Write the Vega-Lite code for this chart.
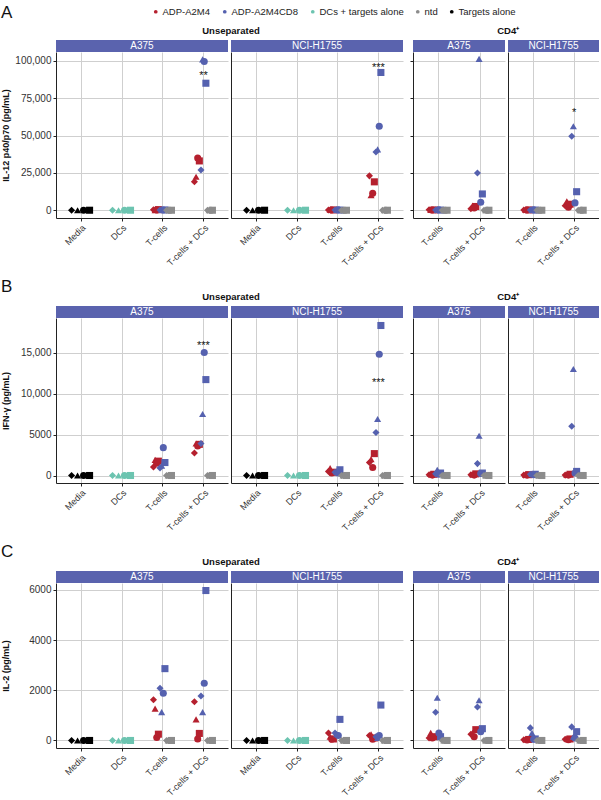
{
"$schema":"https://vega.github.io/schema/vega-lite/v6.json",
"background":"white",
"padding":{"left":1,"top":3,"right":0,"bottom":0},
"spacing":9,
"config":{
 "font":"Liberation Sans",
 "view":{"stroke":null},
 "axis":{"domainColor":"#222","domainWidth":1,"tickColor":"#222","tickSize":3,"labelColor":"#333","labelFontSize":10,"labelPadding":2,"gridColor":"#cfcfcf","gridWidth":1,"titleFontSize":9,"titleFontWeight":"bold","titleColor":"#111"},
 "axisX":{"labelFontSize":9},
 "title":{"fontSize":9.5,"fontWeight":"bold","color":"#111"}
},
"datasets":{
"pts":[
{"a":"A","g":"U","c":"A375","x":"Media","s":"Targets alone","D1":0,"D2":0,"D3":0,"D4":0},
{"a":"A","g":"U","c":"A375","x":"DCs","s":"DCs + targets alone","D1":0,"D2":0,"D3":0,"D4":0},
{"a":"A","g":"U","c":"A375","x":"T-cells","s":"ADP-A2M4","D1":300,"D2":100,"D3":200,"D4":400},
{"a":"A","g":"U","c":"A375","x":"T-cells","s":"ADP-A2M4CD8","D1":200,"D2":300,"D3":100,"D4":200},
{"a":"A","g":"U","c":"A375","x":"T-cells","s":"ntd","D1":0,"D2":0,"D3":0,"D4":0},
{"a":"A","g":"U","c":"A375","x":"T-cells + DCs","s":"ADP-A2M4","D1":19100,"D2":22400,"D3":35000,"D4":33000},
{"a":"A","g":"U","c":"A375","x":"T-cells + DCs","s":"ADP-A2M4CD8","D1":26900,"D2":101000,"D3":99500,"D4":85000},
{"a":"A","g":"U","c":"A375","x":"T-cells + DCs","s":"ntd","D1":0,"D2":0,"D3":0,"D4":0},
{"a":"A","g":"U","c":"NCI-H1755","x":"Media","s":"Targets alone","D1":0,"D2":0,"D3":0,"D4":0},
{"a":"A","g":"U","c":"NCI-H1755","x":"DCs","s":"DCs + targets alone","D1":0,"D2":0,"D3":0,"D4":0},
{"a":"A","g":"U","c":"NCI-H1755","x":"T-cells","s":"ADP-A2M4","D1":200,"D2":300,"D3":100,"D4":200},
{"a":"A","g":"U","c":"NCI-H1755","x":"T-cells","s":"ADP-A2M4CD8","D1":100,"D2":200,"D3":300,"D4":100},
{"a":"A","g":"U","c":"NCI-H1755","x":"T-cells","s":"ntd","D1":0,"D2":0,"D3":0,"D4":0},
{"a":"A","g":"U","c":"NCI-H1755","x":"T-cells + DCs","s":"ADP-A2M4","D1":23000,"D2":10000,"D3":11300,"D4":19000},
{"a":"A","g":"U","c":"NCI-H1755","x":"T-cells + DCs","s":"ADP-A2M4CD8","D1":39000,"D2":40700,"D3":56200,"D4":92200},
{"a":"A","g":"U","c":"NCI-H1755","x":"T-cells + DCs","s":"ntd","D1":0,"D2":0,"D3":0,"D4":0},
{"a":"A","g":"C","c":"A375","x":"T-cells","s":"ADP-A2M4","D1":300,"D2":200,"D3":100,"D4":200},
{"a":"A","g":"C","c":"A375","x":"T-cells","s":"ADP-A2M4CD8","D1":200,"D2":400,"D3":300,"D4":100},
{"a":"A","g":"C","c":"A375","x":"T-cells","s":"ntd","D1":0,"D2":0,"D3":0,"D4":0},
{"a":"A","g":"C","c":"A375","x":"T-cells + DCs","s":"ADP-A2M4","D1":1000,"D2":3200,"D3":1500,"D4":2500},
{"a":"A","g":"C","c":"A375","x":"T-cells + DCs","s":"ADP-A2M4CD8","D1":24900,"D2":101300,"D3":5300,"D4":10900},
{"a":"A","g":"C","c":"A375","x":"T-cells + DCs","s":"ntd","D1":0,"D2":0,"D3":0,"D4":0},
{"a":"A","g":"C","c":"NCI-H1755","x":"T-cells","s":"ADP-A2M4","D1":200,"D2":300,"D3":100,"D4":200},
{"a":"A","g":"C","c":"NCI-H1755","x":"T-cells","s":"ADP-A2M4CD8","D1":100,"D2":200,"D3":300,"D4":100},
{"a":"A","g":"C","c":"NCI-H1755","x":"T-cells","s":"ntd","D1":0,"D2":0,"D3":0,"D4":0},
{"a":"A","g":"C","c":"NCI-H1755","x":"T-cells + DCs","s":"ADP-A2M4","D1":3000,"D2":6000,"D3":2000,"D4":4000},
{"a":"A","g":"C","c":"NCI-H1755","x":"T-cells + DCs","s":"ADP-A2M4CD8","D1":49500,"D2":56200,"D3":4900,"D4":12400},
{"a":"A","g":"C","c":"NCI-H1755","x":"T-cells + DCs","s":"ntd","D1":0,"D2":0,"D3":0,"D4":0},

{"a":"B","g":"U","c":"A375","x":"Media","s":"Targets alone","D1":0,"D2":0,"D3":0,"D4":0},
{"a":"B","g":"U","c":"A375","x":"DCs","s":"DCs + targets alone","D1":0,"D2":0,"D3":0,"D4":0},
{"a":"B","g":"U","c":"A375","x":"T-cells","s":"ADP-A2M4","D1":1040,"D2":1900,"D3":1500,"D4":1750},
{"a":"B","g":"U","c":"A375","x":"T-cells","s":"ADP-A2M4CD8","D1":930,"D2":1200,"D3":3400,"D4":1580},
{"a":"B","g":"U","c":"A375","x":"T-cells","s":"ntd","D1":0,"D2":0,"D3":0,"D4":0},
{"a":"B","g":"U","c":"A375","x":"T-cells + DCs","s":"ADP-A2M4","D1":2750,"D2":3900,"D3":3600,"D4":3800},
{"a":"B","g":"U","c":"A375","x":"T-cells + DCs","s":"ADP-A2M4CD8","D1":3900,"D2":7500,"D3":15000,"D4":11700},
{"a":"B","g":"U","c":"A375","x":"T-cells + DCs","s":"ntd","D1":0,"D2":0,"D3":0,"D4":0},
{"a":"B","g":"U","c":"NCI-H1755","x":"Media","s":"Targets alone","D1":0,"D2":0,"D3":0,"D4":0},
{"a":"B","g":"U","c":"NCI-H1755","x":"DCs","s":"DCs + targets alone","D1":0,"D2":0,"D3":0,"D4":0},
{"a":"B","g":"U","c":"NCI-H1755","x":"T-cells","s":"ADP-A2M4","D1":500,"D2":900,"D3":300,"D4":400},
{"a":"B","g":"U","c":"NCI-H1755","x":"T-cells","s":"ADP-A2M4CD8","D1":400,"D2":500,"D3":300,"D4":700},
{"a":"B","g":"U","c":"NCI-H1755","x":"T-cells","s":"ntd","D1":0,"D2":0,"D3":0,"D4":0},
{"a":"B","g":"U","c":"NCI-H1755","x":"T-cells + DCs","s":"ADP-A2M4","D1":1580,"D2":2000,"D3":970,"D4":2670},
{"a":"B","g":"U","c":"NCI-H1755","x":"T-cells + DCs","s":"ADP-A2M4CD8","D1":5250,"D2":6900,"D3":14800,"D4":18300},
{"a":"B","g":"U","c":"NCI-H1755","x":"T-cells + DCs","s":"ntd","D1":0,"D2":0,"D3":0,"D4":0},
{"a":"B","g":"C","c":"A375","x":"T-cells","s":"ADP-A2M4","D1":100,"D2":200,"D3":50,"D4":150},
{"a":"B","g":"C","c":"A375","x":"T-cells","s":"ADP-A2M4CD8","D1":200,"D2":700,"D3":150,"D4":300},
{"a":"B","g":"C","c":"A375","x":"T-cells","s":"ntd","D1":0,"D2":0,"D3":0,"D4":0},
{"a":"B","g":"C","c":"A375","x":"T-cells + DCs","s":"ADP-A2M4","D1":100,"D2":150,"D3":50,"D4":200},
{"a":"B","g":"C","c":"A375","x":"T-cells + DCs","s":"ADP-A2M4CD8","D1":1450,"D2":4850,"D3":250,"D4":300},
{"a":"B","g":"C","c":"A375","x":"T-cells + DCs","s":"ntd","D1":0,"D2":0,"D3":0,"D4":0},
{"a":"B","g":"C","c":"NCI-H1755","x":"T-cells","s":"ADP-A2M4","D1":50,"D2":100,"D3":50,"D4":100},
{"a":"B","g":"C","c":"NCI-H1755","x":"T-cells","s":"ADP-A2M4CD8","D1":150,"D2":200,"D3":100,"D4":150},
{"a":"B","g":"C","c":"NCI-H1755","x":"T-cells","s":"ntd","D1":0,"D2":0,"D3":0,"D4":0},
{"a":"B","g":"C","c":"NCI-H1755","x":"T-cells + DCs","s":"ADP-A2M4","D1":50,"D2":100,"D3":50,"D4":150},
{"a":"B","g":"C","c":"NCI-H1755","x":"T-cells + DCs","s":"ADP-A2M4CD8","D1":6000,"D2":13000,"D3":300,"D4":500},
{"a":"B","g":"C","c":"NCI-H1755","x":"T-cells + DCs","s":"ntd","D1":0,"D2":0,"D3":0,"D4":0},

{"a":"C","g":"U","c":"A375","x":"Media","s":"Targets alone","D1":0,"D2":0,"D3":0,"D4":0},
{"a":"C","g":"U","c":"A375","x":"DCs","s":"DCs + targets alone","D1":0,"D2":0,"D3":0,"D4":0},
{"a":"C","g":"U","c":"A375","x":"T-cells","s":"ADP-A2M4","D1":1620,"D2":1270,"D3":120,"D4":250},
{"a":"C","g":"U","c":"A375","x":"T-cells","s":"ADP-A2M4CD8","D1":2080,"D2":1130,"D3":1880,"D4":2860},
{"a":"C","g":"U","c":"A375","x":"T-cells","s":"ntd","D1":0,"D2":0,"D3":0,"D4":0},
{"a":"C","g":"U","c":"A375","x":"T-cells + DCs","s":"ADP-A2M4","D1":1540,"D2":840,"D3":60,"D4":280},
{"a":"C","g":"U","c":"A375","x":"T-cells + DCs","s":"ADP-A2M4CD8","D1":1770,"D2":1130,"D3":2280,"D4":5970},
{"a":"C","g":"U","c":"A375","x":"T-cells + DCs","s":"ntd","D1":0,"D2":0,"D3":0,"D4":0},
{"a":"C","g":"U","c":"NCI-H1755","x":"Media","s":"Targets alone","D1":0,"D2":0,"D3":0,"D4":0},
{"a":"C","g":"U","c":"NCI-H1755","x":"DCs","s":"DCs + targets alone","D1":0,"D2":0,"D3":0,"D4":0},
{"a":"C","g":"U","c":"NCI-H1755","x":"T-cells","s":"ADP-A2M4","D1":300,"D2":150,"D3":50,"D4":60},
{"a":"C","g":"U","c":"NCI-H1755","x":"T-cells","s":"ADP-A2M4CD8","D1":300,"D2":250,"D3":200,"D4":840},
{"a":"C","g":"U","c":"NCI-H1755","x":"T-cells","s":"ntd","D1":0,"D2":0,"D3":0,"D4":0},
{"a":"C","g":"U","c":"NCI-H1755","x":"T-cells + DCs","s":"ADP-A2M4","D1":200,"D2":250,"D3":50,"D4":100},
{"a":"C","g":"U","c":"NCI-H1755","x":"T-cells + DCs","s":"ADP-A2M4CD8","D1":150,"D2":100,"D3":200,"D4":1410},
{"a":"C","g":"U","c":"NCI-H1755","x":"T-cells + DCs","s":"ntd","D1":0,"D2":0,"D3":0,"D4":0},
{"a":"C","g":"C","c":"A375","x":"T-cells","s":"ADP-A2M4","D1":100,"D2":300,"D3":100,"D4":150},
{"a":"C","g":"C","c":"A375","x":"T-cells","s":"ADP-A2M4CD8","D1":1120,"D2":1700,"D3":300,"D4":150},
{"a":"C","g":"C","c":"A375","x":"T-cells","s":"ntd","D1":0,"D2":0,"D3":0,"D4":0},
{"a":"C","g":"C","c":"A375","x":"T-cells + DCs","s":"ADP-A2M4","D1":250,"D2":300,"D3":150,"D4":430},
{"a":"C","g":"C","c":"A375","x":"T-cells + DCs","s":"ADP-A2M4CD8","D1":1330,"D2":1600,"D3":350,"D4":470},
{"a":"C","g":"C","c":"A375","x":"T-cells + DCs","s":"ntd","D1":0,"D2":0,"D3":0,"D4":0},
{"a":"C","g":"C","c":"NCI-H1755","x":"T-cells","s":"ADP-A2M4","D1":30,"D2":50,"D3":20,"D4":40},
{"a":"C","g":"C","c":"NCI-H1755","x":"T-cells","s":"ADP-A2M4CD8","D1":500,"D2":300,"D3":50,"D4":60},
{"a":"C","g":"C","c":"NCI-H1755","x":"T-cells","s":"ntd","D1":0,"D2":0,"D3":0,"D4":0},
{"a":"C","g":"C","c":"NCI-H1755","x":"T-cells + DCs","s":"ADP-A2M4","D1":50,"D2":80,"D3":30,"D4":60},
{"a":"C","g":"C","c":"NCI-H1755","x":"T-cells + DCs","s":"ADP-A2M4CD8","D1":540,"D2":150,"D3":100,"D4":350},
{"a":"C","g":"C","c":"NCI-H1755","x":"T-cells + DCs","s":"ntd","D1":0,"D2":0,"D3":0,"D4":0}
],
"stars":[
{"a":"A","g":"U","c":"A375","x":"T-cells + DCs","t":"**","value":92000},
{"a":"A","g":"U","c":"NCI-H1755","x":"T-cells + DCs","t":"***","value":97500},
{"a":"A","g":"C","c":"NCI-H1755","x":"T-cells + DCs","t":"*","value":67000},
{"a":"B","g":"U","c":"A375","x":"T-cells + DCs","t":"***","value":16200},
{"a":"B","g":"U","c":"NCI-H1755","x":"T-cells + DCs","t":"***","value":11600}
]
},
"vconcat":[
{"title":{"text":"A","anchor":"start","fontSize":17,"fontWeight":"normal","offset":4},
 "spacing":6,
 "hconcat":[
  {"title":{"text":"Unseparated","anchor":"middle","dx":29,"offset":5},"spacing":3,
   "hconcat":[
    {"spacing":0,"vconcat":[
      {"width":172,"height":12,"view":{"fill":"#5a63ae","stroke":null},"data":{"values":[{"t":"A375"}]},"mark":{"type":"text","color":"white","fontSize":10,"baseline":"middle"},"encoding":{"text":{"field":"t"}}},
      {"width":172,"height":166,"layer":[
        {"data":{"name":"pts"},"transform":[{"filter":"datum.a=='A' && datum.g=='U' && datum.c=='A375'"},{"fold":["D1","D2","D3","D4"],"as":["donor","value"]},{"calculate":"(datum.s=='Targets alone'||datum.s=='DCs + targets alone') ? indexof(['D1','D2','D3','D4'],datum.donor)*11/3 : indexof(['ADP-A2M4','ADP-A2M4CD8','ntd'],datum.s)*4+indexof(['D1','D2','D3','D4'],datum.donor)","as":"slot"}],
         "mark":{"type":"point","filled":true,"size":50,"opacity":1},
         "encoding":{
          "x":{"field":"x","type":"nominal","scale":{"type":"point","domain":["Media","DCs","T-cells","T-cells + DCs"],"padding":0.6},"axis":{"title":null,"labelAngle":-45,"labelAlign":"right","labelBaseline":"top","grid":true}},
          "xOffset":{"field":"slot","type":"quantitative","scale":{"domain":[0,11],"range":[-9,9]}},
          "y":{"field":"value","type":"quantitative","scale":{"domain":[-5200,105900],"nice":false,"zero":false},"axis":{"values":[0,25000,50000,75000,100000],"labelExpr":"format(datum.value, ',')","title":"IL-12 p40/p70 (pg/mL)","grid":true,"minExtent":43,"titlePadding":3}},
          "color":{"field":"s","type":"nominal","scale":{"domain":["ADP-A2M4","ADP-A2M4CD8","DCs + targets alone","ntd","Targets alone"],"range":["#b5202e","#5561af","#6cc4b0","#8c8c8c","#000000"]},"legend":{"orient":"none","legendX":95,"legendY":-33,"direction":"horizontal","columns":5,"gridAlign":"none","title":null,"symbolType":"circle","symbolSize":14,"labelFontSize":9.5,"labelColor":"#222","columnPadding":9,"labelOffset":2}},
          "shape":{"field":"donor","type":"nominal","scale":{"domain":["D1","D2","D3","D4"],"range":["diamond","triangle-up","circle","square"]},"legend":null}}},
        {"data":{"name":"stars"},"transform":[{"filter":"datum.a=='A' && datum.g=='U' && datum.c=='A375'"}],"mark":{"type":"text","fontSize":11,"baseline":"middle","dy":3,"color":"#111"},"encoding":{"x":{"field":"x","type":"nominal"},"y":{"field":"value","type":"quantitative"},"text":{"field":"t"}}}
      ]}
    ]},
    {"spacing":0,"vconcat":[
      {"width":172,"height":12,"view":{"fill":"#5a63ae","stroke":null},"data":{"values":[{"t":"NCI-H1755"}]},"mark":{"type":"text","color":"white","fontSize":10,"baseline":"middle"},"encoding":{"text":{"field":"t"}}},
      {"width":172,"height":166,"layer":[
        {"data":{"name":"pts"},"transform":[{"filter":"datum.a=='A' && datum.g=='U' && datum.c=='NCI-H1755'"},{"fold":["D1","D2","D3","D4"],"as":["donor","value"]},{"calculate":"(datum.s=='Targets alone'||datum.s=='DCs + targets alone') ? indexof(['D1','D2','D3','D4'],datum.donor)*11/3 : indexof(['ADP-A2M4','ADP-A2M4CD8','ntd'],datum.s)*4+indexof(['D1','D2','D3','D4'],datum.donor)","as":"slot"}],
         "mark":{"type":"point","filled":true,"size":50,"opacity":1},
         "encoding":{
          "x":{"field":"x","type":"nominal","scale":{"type":"point","domain":["Media","DCs","T-cells","T-cells + DCs"],"padding":0.6},"axis":{"title":null,"labelAngle":-45,"labelAlign":"right","labelBaseline":"top","grid":true}},
          "xOffset":{"field":"slot","type":"quantitative","scale":{"domain":[0,11],"range":[-9,9]}},
          "y":{"field":"value","type":"quantitative","scale":{"domain":[-5200,105900],"nice":false,"zero":false},"axis":{"values":[0,25000,50000,75000,100000],"title":null,"labels":false,"ticks":false,"grid":true}},
          "color":{"field":"s","type":"nominal","scale":{"domain":["ADP-A2M4","ADP-A2M4CD8","DCs + targets alone","ntd","Targets alone"],"range":["#b5202e","#5561af","#6cc4b0","#8c8c8c","#000000"]}},
          "shape":{"field":"donor","type":"nominal","scale":{"domain":["D1","D2","D3","D4"],"range":["diamond","triangle-up","circle","square"]},"legend":null}}},
        {"data":{"name":"stars"},"transform":[{"filter":"datum.a=='A' && datum.g=='U' && datum.c=='NCI-H1755'"}],"mark":{"type":"text","fontSize":11,"baseline":"middle","dy":3,"color":"#111"},"encoding":{"x":{"field":"x","type":"nominal"},"y":{"field":"value","type":"quantitative"},"text":{"field":"t"}}}
      ]}
    ]}
   ]},
  {"title":{"text":"CD4⁺","anchor":"middle","dx":4,"offset":5},"spacing":3,
   "hconcat":[
    {"spacing":0,"vconcat":[
      {"width":92,"height":12,"view":{"fill":"#5a63ae","stroke":null},"data":{"values":[{"t":"A375"}]},"mark":{"type":"text","color":"white","fontSize":10,"baseline":"middle"},"encoding":{"text":{"field":"t"}}},
      {"width":92,"height":166,"layer":[
        {"data":{"name":"pts"},"transform":[{"filter":"datum.a=='A' && datum.g=='C' && datum.c=='A375'"},{"fold":["D1","D2","D3","D4"],"as":["donor","value"]},{"calculate":"(datum.s=='Targets alone'||datum.s=='DCs + targets alone') ? indexof(['D1','D2','D3','D4'],datum.donor)*11/3 : indexof(['ADP-A2M4','ADP-A2M4CD8','ntd'],datum.s)*4+indexof(['D1','D2','D3','D4'],datum.donor)","as":"slot"}],
         "mark":{"type":"point","filled":true,"size":50,"opacity":1},
         "encoding":{
          "x":{"field":"x","type":"nominal","scale":{"type":"point","domain":["T-cells","T-cells + DCs"],"padding":0.6},"axis":{"title":null,"labelAngle":-45,"labelAlign":"right","labelBaseline":"top","grid":true}},
          "xOffset":{"field":"slot","type":"quantitative","scale":{"domain":[0,11],"range":[-9,9]}},
          "y":{"field":"value","type":"quantitative","scale":{"domain":[-5200,105900],"nice":false,"zero":false},"axis":{"values":[0,25000,50000,75000,100000],"title":null,"labels":false,"ticks":true,"grid":true}},
          "color":{"field":"s","type":"nominal","scale":{"domain":["ADP-A2M4","ADP-A2M4CD8","DCs + targets alone","ntd","Targets alone"],"range":["#b5202e","#5561af","#6cc4b0","#8c8c8c","#000000"]}},
          "shape":{"field":"donor","type":"nominal","scale":{"domain":["D1","D2","D3","D4"],"range":["diamond","triangle-up","circle","square"]},"legend":null}}}
      ]}
    ]},
    {"spacing":0,"vconcat":[
      {"width":91,"height":12,"view":{"fill":"#5a63ae","stroke":null},"data":{"values":[{"t":"NCI-H1755"}]},"mark":{"type":"text","color":"white","fontSize":10,"baseline":"middle"},"encoding":{"text":{"field":"t"}}},
      {"width":91,"height":166,"layer":[
        {"data":{"name":"pts"},"transform":[{"filter":"datum.a=='A' && datum.g=='C' && datum.c=='NCI-H1755'"},{"fold":["D1","D2","D3","D4"],"as":["donor","value"]},{"calculate":"(datum.s=='Targets alone'||datum.s=='DCs + targets alone') ? indexof(['D1','D2','D3','D4'],datum.donor)*11/3 : indexof(['ADP-A2M4','ADP-A2M4CD8','ntd'],datum.s)*4+indexof(['D1','D2','D3','D4'],datum.donor)","as":"slot"}],
         "mark":{"type":"point","filled":true,"size":50,"opacity":1},
         "encoding":{
          "x":{"field":"x","type":"nominal","scale":{"type":"point","domain":["T-cells","T-cells + DCs"],"padding":0.6},"axis":{"title":null,"labelAngle":-45,"labelAlign":"right","labelBaseline":"top","grid":true}},
          "xOffset":{"field":"slot","type":"quantitative","scale":{"domain":[0,11],"range":[-9,9]}},
          "y":{"field":"value","type":"quantitative","scale":{"domain":[-5200,105900],"nice":false,"zero":false},"axis":{"values":[0,25000,50000,75000,100000],"title":null,"labels":false,"ticks":false,"grid":true}},
          "color":{"field":"s","type":"nominal","scale":{"domain":["ADP-A2M4","ADP-A2M4CD8","DCs + targets alone","ntd","Targets alone"],"range":["#b5202e","#5561af","#6cc4b0","#8c8c8c","#000000"]}},
          "shape":{"field":"donor","type":"nominal","scale":{"domain":["D1","D2","D3","D4"],"range":["diamond","triangle-up","circle","square"]},"legend":null}}},
        {"data":{"name":"stars"},"transform":[{"filter":"datum.a=='A' && datum.g=='C' && datum.c=='NCI-H1755'"}],"mark":{"type":"text","fontSize":11,"baseline":"middle","dy":3,"color":"#111"},"encoding":{"x":{"field":"x","type":"nominal"},"y":{"field":"value","type":"quantitative"},"text":{"field":"t"}}}
      ]}
    ]}
   ]}
 ]},

{"title":{"text":"B","anchor":"start","fontSize":17,"fontWeight":"normal","offset":-4},
 "spacing":6,
 "hconcat":[
  {"title":{"text":"Unseparated","anchor":"middle","dx":29,"offset":5},"spacing":3,
   "hconcat":[
    {"spacing":0,"vconcat":[
      {"width":172,"height":12,"view":{"fill":"#5a63ae","stroke":null},"data":{"values":[{"t":"A375"}]},"mark":{"type":"text","color":"white","fontSize":10,"baseline":"middle"},"encoding":{"text":{"field":"t"}}},
      {"width":172,"height":165,"layer":[
        {"data":{"name":"pts"},"transform":[{"filter":"datum.a=='B' && datum.g=='U' && datum.c=='A375'"},{"fold":["D1","D2","D3","D4"],"as":["donor","value"]},{"calculate":"(datum.s=='Targets alone'||datum.s=='DCs + targets alone') ? indexof(['D1','D2','D3','D4'],datum.donor)*11/3 : indexof(['ADP-A2M4','ADP-A2M4CD8','ntd'],datum.s)*4+indexof(['D1','D2','D3','D4'],datum.donor)","as":"slot"}],
         "mark":{"type":"point","filled":true,"size":50,"opacity":1},
         "encoding":{
          "x":{"field":"x","type":"nominal","scale":{"type":"point","domain":["Media","DCs","T-cells","T-cells + DCs"],"padding":0.6},"axis":{"title":null,"labelAngle":-45,"labelAlign":"right","labelBaseline":"top","grid":true}},
          "xOffset":{"field":"slot","type":"quantitative","scale":{"domain":[0,11],"range":[-9,9]}},
          "y":{"field":"value","type":"quantitative","scale":{"domain":[-915,19215],"nice":false,"zero":false},"axis":{"values":[0,5000,10000,15000],"labelExpr":"datum.value >= 10000 ? format(datum.value, ',') : format(datum.value, 'd')","title":"IFN-γ (pg/mL)","grid":true,"minExtent":43,"titlePadding":3}},
          "color":{"field":"s","type":"nominal","scale":{"domain":["ADP-A2M4","ADP-A2M4CD8","DCs + targets alone","ntd","Targets alone"],"range":["#b5202e","#5561af","#6cc4b0","#8c8c8c","#000000"]}},
          "shape":{"field":"donor","type":"nominal","scale":{"domain":["D1","D2","D3","D4"],"range":["diamond","triangle-up","circle","square"]},"legend":null}}},
        {"data":{"name":"stars"},"transform":[{"filter":"datum.a=='B' && datum.g=='U' && datum.c=='A375'"}],"mark":{"type":"text","fontSize":11,"baseline":"middle","dy":3,"color":"#111"},"encoding":{"x":{"field":"x","type":"nominal"},"y":{"field":"value","type":"quantitative"},"text":{"field":"t"}}}
      ]}
    ]},
    {"spacing":0,"vconcat":[
      {"width":172,"height":12,"view":{"fill":"#5a63ae","stroke":null},"data":{"values":[{"t":"NCI-H1755"}]},"mark":{"type":"text","color":"white","fontSize":10,"baseline":"middle"},"encoding":{"text":{"field":"t"}}},
      {"width":172,"height":165,"layer":[
        {"data":{"name":"pts"},"transform":[{"filter":"datum.a=='B' && datum.g=='U' && datum.c=='NCI-H1755'"},{"fold":["D1","D2","D3","D4"],"as":["donor","value"]},{"calculate":"(datum.s=='Targets alone'||datum.s=='DCs + targets alone') ? indexof(['D1','D2','D3','D4'],datum.donor)*11/3 : indexof(['ADP-A2M4','ADP-A2M4CD8','ntd'],datum.s)*4+indexof(['D1','D2','D3','D4'],datum.donor)","as":"slot"}],
         "mark":{"type":"point","filled":true,"size":50,"opacity":1},
         "encoding":{
          "x":{"field":"x","type":"nominal","scale":{"type":"point","domain":["Media","DCs","T-cells","T-cells + DCs"],"padding":0.6},"axis":{"title":null,"labelAngle":-45,"labelAlign":"right","labelBaseline":"top","grid":true}},
          "xOffset":{"field":"slot","type":"quantitative","scale":{"domain":[0,11],"range":[-9,9]}},
          "y":{"field":"value","type":"quantitative","scale":{"domain":[-915,19215],"nice":false,"zero":false},"axis":{"values":[0,5000,10000,15000],"title":null,"labels":false,"ticks":false,"grid":true}},
          "color":{"field":"s","type":"nominal","scale":{"domain":["ADP-A2M4","ADP-A2M4CD8","DCs + targets alone","ntd","Targets alone"],"range":["#b5202e","#5561af","#6cc4b0","#8c8c8c","#000000"]}},
          "shape":{"field":"donor","type":"nominal","scale":{"domain":["D1","D2","D3","D4"],"range":["diamond","triangle-up","circle","square"]},"legend":null}}},
        {"data":{"name":"stars"},"transform":[{"filter":"datum.a=='B' && datum.g=='U' && datum.c=='NCI-H1755'"}],"mark":{"type":"text","fontSize":11,"baseline":"middle","dy":3,"color":"#111"},"encoding":{"x":{"field":"x","type":"nominal"},"y":{"field":"value","type":"quantitative"},"text":{"field":"t"}}}
      ]}
    ]}
   ]},
  {"title":{"text":"CD4⁺","anchor":"middle","dx":4,"offset":5},"spacing":3,
   "hconcat":[
    {"spacing":0,"vconcat":[
      {"width":92,"height":12,"view":{"fill":"#5a63ae","stroke":null},"data":{"values":[{"t":"A375"}]},"mark":{"type":"text","color":"white","fontSize":10,"baseline":"middle"},"encoding":{"text":{"field":"t"}}},
      {"width":92,"height":165,"layer":[
        {"data":{"name":"pts"},"transform":[{"filter":"datum.a=='B' && datum.g=='C' && datum.c=='A375'"},{"fold":["D1","D2","D3","D4"],"as":["donor","value"]},{"calculate":"(datum.s=='Targets alone'||datum.s=='DCs + targets alone') ? indexof(['D1','D2','D3','D4'],datum.donor)*11/3 : indexof(['ADP-A2M4','ADP-A2M4CD8','ntd'],datum.s)*4+indexof(['D1','D2','D3','D4'],datum.donor)","as":"slot"}],
         "mark":{"type":"point","filled":true,"size":50,"opacity":1},
         "encoding":{
          "x":{"field":"x","type":"nominal","scale":{"type":"point","domain":["T-cells","T-cells + DCs"],"padding":0.6},"axis":{"title":null,"labelAngle":-45,"labelAlign":"right","labelBaseline":"top","grid":true}},
          "xOffset":{"field":"slot","type":"quantitative","scale":{"domain":[0,11],"range":[-9,9]}},
          "y":{"field":"value","type":"quantitative","scale":{"domain":[-915,19215],"nice":false,"zero":false},"axis":{"values":[0,5000,10000,15000],"title":null,"labels":false,"ticks":true,"grid":true}},
          "color":{"field":"s","type":"nominal","scale":{"domain":["ADP-A2M4","ADP-A2M4CD8","DCs + targets alone","ntd","Targets alone"],"range":["#b5202e","#5561af","#6cc4b0","#8c8c8c","#000000"]}},
          "shape":{"field":"donor","type":"nominal","scale":{"domain":["D1","D2","D3","D4"],"range":["diamond","triangle-up","circle","square"]},"legend":null}}}
      ]}
    ]},
    {"spacing":0,"vconcat":[
      {"width":91,"height":12,"view":{"fill":"#5a63ae","stroke":null},"data":{"values":[{"t":"NCI-H1755"}]},"mark":{"type":"text","color":"white","fontSize":10,"baseline":"middle"},"encoding":{"text":{"field":"t"}}},
      {"width":91,"height":165,"layer":[
        {"data":{"name":"pts"},"transform":[{"filter":"datum.a=='B' && datum.g=='C' && datum.c=='NCI-H1755'"},{"fold":["D1","D2","D3","D4"],"as":["donor","value"]},{"calculate":"(datum.s=='Targets alone'||datum.s=='DCs + targets alone') ? indexof(['D1','D2','D3','D4'],datum.donor)*11/3 : indexof(['ADP-A2M4','ADP-A2M4CD8','ntd'],datum.s)*4+indexof(['D1','D2','D3','D4'],datum.donor)","as":"slot"}],
         "mark":{"type":"point","filled":true,"size":50,"opacity":1},
         "encoding":{
          "x":{"field":"x","type":"nominal","scale":{"type":"point","domain":["T-cells","T-cells + DCs"],"padding":0.6},"axis":{"title":null,"labelAngle":-45,"labelAlign":"right","labelBaseline":"top","grid":true}},
          "xOffset":{"field":"slot","type":"quantitative","scale":{"domain":[0,11],"range":[-9,9]}},
          "y":{"field":"value","type":"quantitative","scale":{"domain":[-915,19215],"nice":false,"zero":false},"axis":{"values":[0,5000,10000,15000],"title":null,"labels":false,"ticks":false,"grid":true}},
          "color":{"field":"s","type":"nominal","scale":{"domain":["ADP-A2M4","ADP-A2M4CD8","DCs + targets alone","ntd","Targets alone"],"range":["#b5202e","#5561af","#6cc4b0","#8c8c8c","#000000"]}},
          "shape":{"field":"donor","type":"nominal","scale":{"domain":["D1","D2","D3","D4"],"range":["diamond","triangle-up","circle","square"]},"legend":null}}}
      ]}
    ]}
   ]}
 ]},

{"title":{"text":"C","anchor":"start","fontSize":17,"fontWeight":"normal","offset":-4},
 "spacing":6,
 "hconcat":[
  {"title":{"text":"Unseparated","anchor":"middle","dx":29,"offset":5},"spacing":3,
   "hconcat":[
    {"spacing":0,"vconcat":[
      {"width":172,"height":12,"view":{"fill":"#5a63ae","stroke":null},"data":{"values":[{"t":"A375"}]},"mark":{"type":"text","color":"white","fontSize":10,"baseline":"middle"},"encoding":{"text":{"field":"t"}}},
      {"width":172,"height":165,"layer":[
        {"data":{"name":"pts"},"transform":[{"filter":"datum.a=='C' && datum.g=='U' && datum.c=='A375'"},{"fold":["D1","D2","D3","D4"],"as":["donor","value"]},{"calculate":"(datum.s=='Targets alone'||datum.s=='DCs + targets alone') ? indexof(['D1','D2','D3','D4'],datum.donor)*11/3 : indexof(['ADP-A2M4','ADP-A2M4CD8','ntd'],datum.s)*4+indexof(['D1','D2','D3','D4'],datum.donor)","as":"slot"}],
         "mark":{"type":"point","filled":true,"size":50,"opacity":1},
         "encoding":{
          "x":{"field":"x","type":"nominal","scale":{"type":"point","domain":["Media","DCs","T-cells","T-cells + DCs"],"padding":0.6},"axis":{"title":null,"labelAngle":-45,"labelAlign":"right","labelBaseline":"top","grid":true}},
          "xOffset":{"field":"slot","type":"quantitative","scale":{"domain":[0,11],"range":[-9,9]}},
          "y":{"field":"value","type":"quantitative","scale":{"domain":[-300,6270],"nice":false,"zero":false},"axis":{"values":[0,2000,4000,6000],"format":"d","title":"IL-2 (pg/mL)","grid":true,"minExtent":43,"titlePadding":3}},
          "color":{"field":"s","type":"nominal","scale":{"domain":["ADP-A2M4","ADP-A2M4CD8","DCs + targets alone","ntd","Targets alone"],"range":["#b5202e","#5561af","#6cc4b0","#8c8c8c","#000000"]}},
          "shape":{"field":"donor","type":"nominal","scale":{"domain":["D1","D2","D3","D4"],"range":["diamond","triangle-up","circle","square"]},"legend":null}}}
      ]}
    ]},
    {"spacing":0,"vconcat":[
      {"width":172,"height":12,"view":{"fill":"#5a63ae","stroke":null},"data":{"values":[{"t":"NCI-H1755"}]},"mark":{"type":"text","color":"white","fontSize":10,"baseline":"middle"},"encoding":{"text":{"field":"t"}}},
      {"width":172,"height":165,"layer":[
        {"data":{"name":"pts"},"transform":[{"filter":"datum.a=='C' && datum.g=='U' && datum.c=='NCI-H1755'"},{"fold":["D1","D2","D3","D4"],"as":["donor","value"]},{"calculate":"(datum.s=='Targets alone'||datum.s=='DCs + targets alone') ? indexof(['D1','D2','D3','D4'],datum.donor)*11/3 : indexof(['ADP-A2M4','ADP-A2M4CD8','ntd'],datum.s)*4+indexof(['D1','D2','D3','D4'],datum.donor)","as":"slot"}],
         "mark":{"type":"point","filled":true,"size":50,"opacity":1},
         "encoding":{
          "x":{"field":"x","type":"nominal","scale":{"type":"point","domain":["Media","DCs","T-cells","T-cells + DCs"],"padding":0.6},"axis":{"title":null,"labelAngle":-45,"labelAlign":"right","labelBaseline":"top","grid":true}},
          "xOffset":{"field":"slot","type":"quantitative","scale":{"domain":[0,11],"range":[-9,9]}},
          "y":{"field":"value","type":"quantitative","scale":{"domain":[-300,6270],"nice":false,"zero":false},"axis":{"values":[0,2000,4000,6000],"title":null,"labels":false,"ticks":false,"grid":true}},
          "color":{"field":"s","type":"nominal","scale":{"domain":["ADP-A2M4","ADP-A2M4CD8","DCs + targets alone","ntd","Targets alone"],"range":["#b5202e","#5561af","#6cc4b0","#8c8c8c","#000000"]}},
          "shape":{"field":"donor","type":"nominal","scale":{"domain":["D1","D2","D3","D4"],"range":["diamond","triangle-up","circle","square"]},"legend":null}}}
      ]}
    ]}
   ]},
  {"title":{"text":"CD4⁺","anchor":"middle","dx":4,"offset":5},"spacing":3,
   "hconcat":[
    {"spacing":0,"vconcat":[
      {"width":92,"height":12,"view":{"fill":"#5a63ae","stroke":null},"data":{"values":[{"t":"A375"}]},"mark":{"type":"text","color":"white","fontSize":10,"baseline":"middle"},"encoding":{"text":{"field":"t"}}},
      {"width":92,"height":165,"layer":[
        {"data":{"name":"pts"},"transform":[{"filter":"datum.a=='C' && datum.g=='C' && datum.c=='A375'"},{"fold":["D1","D2","D3","D4"],"as":["donor","value"]},{"calculate":"(datum.s=='Targets alone'||datum.s=='DCs + targets alone') ? indexof(['D1','D2','D3','D4'],datum.donor)*11/3 : indexof(['ADP-A2M4','ADP-A2M4CD8','ntd'],datum.s)*4+indexof(['D1','D2','D3','D4'],datum.donor)","as":"slot"}],
         "mark":{"type":"point","filled":true,"size":50,"opacity":1},
         "encoding":{
          "x":{"field":"x","type":"nominal","scale":{"type":"point","domain":["T-cells","T-cells + DCs"],"padding":0.6},"axis":{"title":null,"labelAngle":-45,"labelAlign":"right","labelBaseline":"top","grid":true}},
          "xOffset":{"field":"slot","type":"quantitative","scale":{"domain":[0,11],"range":[-9,9]}},
          "y":{"field":"value","type":"quantitative","scale":{"domain":[-300,6270],"nice":false,"zero":false},"axis":{"values":[0,2000,4000,6000],"title":null,"labels":false,"ticks":true,"grid":true}},
          "color":{"field":"s","type":"nominal","scale":{"domain":["ADP-A2M4","ADP-A2M4CD8","DCs + targets alone","ntd","Targets alone"],"range":["#b5202e","#5561af","#6cc4b0","#8c8c8c","#000000"]}},
          "shape":{"field":"donor","type":"nominal","scale":{"domain":["D1","D2","D3","D4"],"range":["diamond","triangle-up","circle","square"]},"legend":null}}}
      ]}
    ]},
    {"spacing":0,"vconcat":[
      {"width":91,"height":12,"view":{"fill":"#5a63ae","stroke":null},"data":{"values":[{"t":"NCI-H1755"}]},"mark":{"type":"text","color":"white","fontSize":10,"baseline":"middle"},"encoding":{"text":{"field":"t"}}},
      {"width":91,"height":165,"layer":[
        {"data":{"name":"pts"},"transform":[{"filter":"datum.a=='C' && datum.g=='C' && datum.c=='NCI-H1755'"},{"fold":["D1","D2","D3","D4"],"as":["donor","value"]},{"calculate":"(datum.s=='Targets alone'||datum.s=='DCs + targets alone') ? indexof(['D1','D2','D3','D4'],datum.donor)*11/3 : indexof(['ADP-A2M4','ADP-A2M4CD8','ntd'],datum.s)*4+indexof(['D1','D2','D3','D4'],datum.donor)","as":"slot"}],
         "mark":{"type":"point","filled":true,"size":50,"opacity":1},
         "encoding":{
          "x":{"field":"x","type":"nominal","scale":{"type":"point","domain":["T-cells","T-cells + DCs"],"padding":0.6},"axis":{"title":null,"labelAngle":-45,"labelAlign":"right","labelBaseline":"top","grid":true}},
          "xOffset":{"field":"slot","type":"quantitative","scale":{"domain":[0,11],"range":[-9,9]}},
          "y":{"field":"value","type":"quantitative","scale":{"domain":[-300,6270],"nice":false,"zero":false},"axis":{"values":[0,2000,4000,6000],"title":null,"labels":false,"ticks":false,"grid":true}},
          "color":{"field":"s","type":"nominal","scale":{"domain":["ADP-A2M4","ADP-A2M4CD8","DCs + targets alone","ntd","Targets alone"],"range":["#b5202e","#5561af","#6cc4b0","#8c8c8c","#000000"]}},
          "shape":{"field":"donor","type":"nominal","scale":{"domain":["D1","D2","D3","D4"],"range":["diamond","triangle-up","circle","square"]},"legend":null}}}
      ]}
    ]}
   ]}
 ]}
]
}
